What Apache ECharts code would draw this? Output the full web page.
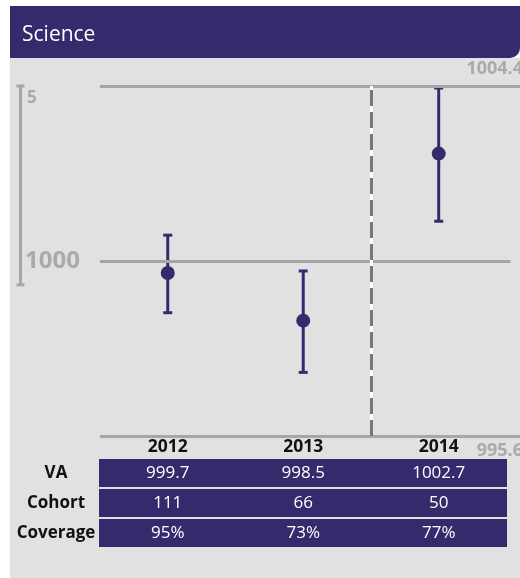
<!DOCTYPE html>
<html>
<head>
<meta charset="utf-8">
<script src="https://cdn.jsdelivr.net/npm/echarts@6/dist/echarts.min.js"></script>
<style>
  html, body { margin: 0; padding: 0; background: #fff; }
  #chart { width: 520px; height: 578px; }
</style>
</head>
<body>
<div id="chart"></div>
<script>
const years = ['2012', '2013', '2014'];
const va = [999.7, 998.5, 1002.7];
const vaLow = [998.7, 997.2, 1001.0];
const vaHigh = [1000.65, 999.75, 1004.35];
const cohort = [111, 66, 50];
const coverage = [95, 73, 77];
const rowNames = ['VA', 'Cohort', 'Coverage'];
const yMin = 995.6;
const yMax = 1004.4;
const yRef = 1000;
const scaleSpan = 5;

const PURPLE = '#332b6b';
const GREY = '#a6a6a6';
const FONT = '"Open Sans", "Noto Sans", sans-serif';

const chart = echarts.init(document.getElementById('chart'), null, { renderer: 'canvas' });

const tableRows = [
    va.map(v => v.toFixed(1)),
    cohort.map(v => String(v)),
    coverage.map(v => v + '%')
];
const tableData = [];
tableRows.forEach((row, r) => row.forEach((txt, c) => tableData.push([c, r, txt])));

function errorBar(params, api) {
    const x = api.coord([api.value(0), api.value(1)])[0];
    const lo = api.coord([api.value(0), api.value(1)])[1];
    const hi = api.coord([api.value(0), api.value(2)])[1];
    const style = { stroke: PURPLE, lineWidth: 3 };
    return {
        type: 'group',
        children: [
            { type: 'line', shape: { x1: x, y1: lo, x2: x, y2: hi }, style },
            { type: 'line', shape: { x1: x - 4.5, y1: lo, x2: x + 4.5, y2: lo }, style },
            { type: 'line', shape: { x1: x - 4.5, y1: hi, x2: x + 4.5, y2: hi }, style }
        ]
    };
}

function scaleBracket(params, api) {
    const top = api.coord([0, api.value(0)])[1];
    const bot = api.coord([0, api.value(1)])[1];
    const x = 20.5;
    const style = { stroke: GREY, lineWidth: 3 };
    return {
        type: 'group',
        children: [
            { type: 'line', shape: { x1: x, y1: top, x2: x, y2: bot }, style },
            { type: 'line', shape: { x1: x - 4, y1: top, x2: x + 4, y2: top }, style },
            { type: 'line', shape: { x1: x - 4, y1: bot, x2: x + 4, y2: bot }, style }
        ]
    };
}

function tableCell(params, api) {
    const c = api.value(0);
    const left = api.coord([c - 0.5, api.value(1)]);
    const right = api.coord([c + 0.5, api.value(1)]);
    const cy = left[1];
    const x0 = Math.round(left[0]) - 1;
    const x1 = Math.round(right[0]) + 1;
    return {
        type: 'group',
        children: [
            { type: 'rect', shape: { x: x0, y: Math.round(cy - 14), width: x1 - x0, height: 28 },
              style: { fill: PURPLE } },
            { type: 'text', style: { text: tableData[params.dataIndex][2], x: (left[0] + right[0]) / 2, y: cy,
                align: 'center', verticalAlign: 'middle', fill: '#fff',
                fontSize: 17, fontFamily: FONT } }
        ]
    };
}

const xCommon = { type: 'value', min: -0.5, max: 2.6, splitLine: { show: false }, axisLine: { show: false }, axisTick: { show: false } };

const option = {
    animation: false,
    textStyle: { fontFamily: FONT },
    grid: [
        { left: 100, right: 0, top: 86, bottom: 142 },
        { left: 100, right: 0, top: 458, bottom: 30 }
    ],
    xAxis: [
        Object.assign({}, xCommon, {
            gridIndex: 0,
            axisLabel: {
                customValues: [0, 1, 2],
                formatter: v => years[Math.round(v)],
                color: '#111', fontWeight: 'bold', fontSize: 17.5, margin: 2
            }
        }),
        Object.assign({}, xCommon, { gridIndex: 1, axisLabel: { show: false } })
    ],
    yAxis: [
        { type: 'value', gridIndex: 0, min: yMin, max: yMax, axisLabel: { show: false },
          splitLine: { show: false }, axisLine: { show: false }, axisTick: { show: false } },
        { type: 'category', gridIndex: 1, data: rowNames, inverse: true,
          axisLine: { show: false }, axisTick: { show: false },
          axisLabel: { align: 'center', margin: 44, color: '#111', fontWeight: 'bold', fontSize: 17 } }
    ],
    series: [
        {
            type: 'custom',
            xAxisIndex: 0, yAxisIndex: 0,
            clip: false,
            renderItem: scaleBracket,
            data: [[yMax, yMax - scaleSpan]],
            silent: true
        },
        {
            type: 'scatter',
            xAxisIndex: 0, yAxisIndex: 0,
            symbolSize: 14,
            itemStyle: { color: PURPLE, opacity: 1 },
            z: 5,
            data: va.map((v, i) => [i, v]),
            markLine: {
                silent: true,
                symbol: 'none',
                animation: false,
                data: [
                    [{ coord: [-0.5, yMax], lineStyle: { color: GREY, width: 3, type: 'solid' },
                       label: { show: true, position: 'insideEndTop', formatter: String(yMax), color: '#aaa',
                                fontWeight: 'bold', fontSize: 18, distance: [-3, 8] } },
                     { coord: [2.6, yMax] }],
                    [{ coord: [-0.5, yRef], lineStyle: { color: GREY, width: 3, type: 'solid' },
                       label: { show: true, position: 'start', formatter: String(yRef), color: '#aaa',
                                fontWeight: 'bold', fontSize: 24, distance: 20 } },
                     { coord: [2.53, yRef] }],
                    [{ coord: [-0.5, yMin], lineStyle: { color: GREY, width: 3, type: 'solid' },
                       label: { show: true, position: 'insideEndBottom', formatter: String(yMin), color: '#aaa',
                                fontWeight: 'bold', fontSize: 18, distance: [-3, 6] } },
                     { coord: [2.6, yMin] }],
                    [{ coord: [1.5, yMin], lineStyle: { color: '#fff', width: 3, type: 'solid' }, label: { show: false } },
                     { coord: [1.5, yMax] }],
                    [{ coord: [1.5, yMin], lineStyle: { color: '#777', width: 3, type: [16, 6] }, label: { show: false } },
                     { coord: [1.5, yMax] }]
                ]
            }
        },
        {
            type: 'custom',
            xAxisIndex: 0, yAxisIndex: 0,
            renderItem: errorBar,
            z: 4,
            data: vaLow.map((lo, i) => [i, lo, vaHigh[i]])
        },
        {
            type: 'custom',
            xAxisIndex: 1, yAxisIndex: 1,
            renderItem: tableCell,
            data: tableData.map(d => [d[0], d[1]])
        }
    ]
};

chart.setOption(option);

// panel, title and the scale label next to the bracket (placed from the value axis)
const spanTop = chart.convertToPixel({ yAxisIndex: 0 }, yMax);
chart.setOption({
    graphic: [
        { type: 'rect', shape: { x: 10, y: 58, width: 510, height: 520 }, style: { fill: '#e1e1e1' }, z: -10 },
        { type: 'rect', shape: { x: 10, y: 6, width: 510, height: 52, r: [0, 0, 10, 0] }, style: { fill: PURPLE }, z: -10 },
        { type: 'text', x: 22, y: 35, style: { text: 'Science', fill: '#fff', fontSize: 21, fontFamily: FONT, verticalAlign: 'middle' } },
        { type: 'text', x: 27, y: spanTop + 12, style: { text: String(scaleSpan), fill: '#aaa', fontSize: 17,
            fontWeight: 'bold', fontFamily: FONT, verticalAlign: 'middle' } }
    ]
});
</script>
</body>
</html>
